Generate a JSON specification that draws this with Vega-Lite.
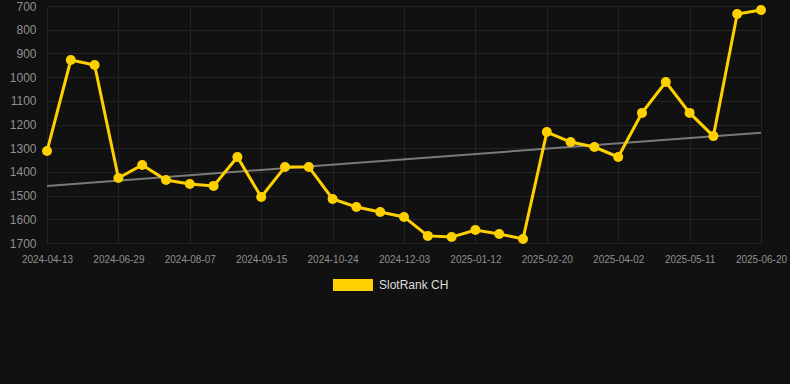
{
  "$schema": "https://vega.github.io/schema/vega-lite/v6.json",
  "width": 753,
  "height": 237,
  "autosize": {"type": "none"},
  "padding": {"left": 37, "top": 6, "right": 0, "bottom": 141},
  "background": "#111111",
  "config": {
    "view": {"stroke": null},
    "font": "Liberation Sans",
    "axis": {"gridColor": "#232323", "gridWidth": 1, "domain": false, "ticks": false, "labelColor": "#8f8f8f", "labelFont": "Liberation Sans", "title": null}
  },
  "datasets": {
    "rank": [
      {"date": "2024-04-13", "rank": 1312, "series": "SlotRank CH"},
      {"date": "2024-05-08", "rank": 928, "series": "SlotRank CH"},
      {"date": "2024-06-03", "rank": 949, "series": "SlotRank CH"},
      {"date": "2024-06-29", "rank": 1426, "series": "SlotRank CH"},
      {"date": "2024-07-12", "rank": 1371, "series": "SlotRank CH"},
      {"date": "2024-07-25", "rank": 1434, "series": "SlotRank CH"},
      {"date": "2024-08-07", "rank": 1451, "series": "SlotRank CH"},
      {"date": "2024-08-20", "rank": 1459, "series": "SlotRank CH"},
      {"date": "2024-09-02", "rank": 1337, "series": "SlotRank CH"},
      {"date": "2024-09-15", "rank": 1506, "series": "SlotRank CH"},
      {"date": "2024-09-28", "rank": 1379, "series": "SlotRank CH"},
      {"date": "2024-10-11", "rank": 1379, "series": "SlotRank CH"},
      {"date": "2024-10-24", "rank": 1514, "series": "SlotRank CH"},
      {"date": "2024-11-06", "rank": 1548, "series": "SlotRank CH"},
      {"date": "2024-11-20", "rank": 1569, "series": "SlotRank CH"},
      {"date": "2024-12-03", "rank": 1590, "series": "SlotRank CH"},
      {"date": "2024-12-16", "rank": 1670, "series": "SlotRank CH"},
      {"date": "2024-12-30", "rank": 1675, "series": "SlotRank CH"},
      {"date": "2025-01-12", "rank": 1645, "series": "SlotRank CH"},
      {"date": "2025-01-25", "rank": 1662, "series": "SlotRank CH"},
      {"date": "2025-02-07", "rank": 1683, "series": "SlotRank CH"},
      {"date": "2025-02-20", "rank": 1232, "series": "SlotRank CH"},
      {"date": "2025-03-06", "rank": 1274, "series": "SlotRank CH"},
      {"date": "2025-03-19", "rank": 1295, "series": "SlotRank CH"},
      {"date": "2025-04-02", "rank": 1337, "series": "SlotRank CH"},
      {"date": "2025-04-15", "rank": 1151, "series": "SlotRank CH"},
      {"date": "2025-04-28", "rank": 1021, "series": "SlotRank CH"},
      {"date": "2025-05-11", "rank": 1151, "series": "SlotRank CH"},
      {"date": "2025-05-24", "rank": 1249, "series": "SlotRank CH"},
      {"date": "2025-06-07", "rank": 734, "series": "SlotRank CH"},
      {"date": "2025-06-20", "rank": 717, "series": "SlotRank CH"}
    ],
    "trend": [
      {"date": "2024-04-13", "rank": 1459},
      {"date": "2025-06-20", "rank": 1235}
    ]
  },
  "encoding": {
    "x": {
      "field": "date",
      "type": "ordinal",
      "scale": {"type": "point", "range": [10, 724], "padding": 0},
      "axis": {
        "values": ["2024-04-13", "2024-06-29", "2024-08-07", "2024-09-15", "2024-10-24", "2024-12-03", "2025-01-12", "2025-02-20", "2025-04-02", "2025-05-11", "2025-06-20"],
        "labelAngle": 0,
        "labelFontSize": 10,
        "labelPadding": 11,
        "grid": true
      }
    },
    "y": {
      "field": "rank",
      "type": "quantitative",
      "scale": {"domain": [700, 1700], "reverse": true, "nice": false, "zero": false},
      "axis": {"values": [700, 800, 900, 1000, 1100, 1200, 1300, 1400, 1500, 1600, 1700], "format": "d", "labelFontSize": 12, "labelPadding": 1, "grid": true}
    }
  },
  "layer": [
    {
      "data": {"name": "trend"},
      "mark": {"type": "line", "color": "#7a7a7a", "strokeWidth": 2},
      "encoding": {}
    },
    {
      "data": {"name": "rank"},
      "mark": {"type": "line", "strokeWidth": 3},
      "encoding": {
        "color": {
          "field": "series",
          "type": "nominal",
          "scale": {"range": ["#FFD000"]},
          "legend": {
            "title": null,
            "orient": "none",
            "legendX": 296,
            "legendY": 259,
            "symbolType": "M-1,-0.3H1V0.3H-1Z",
            "symbolSize": 1600,
            "symbolFillColor": "#FFD000",
            "symbolStrokeColor": "#FFD000",
            "symbolStrokeWidth": 0,
            "labelColor": "#dddddd",
            "labelFontSize": 12,
            "labelOffset": 6
          }
        }
      }
    },
    {
      "data": {"name": "rank"},
      "mark": {"type": "point", "filled": true, "opacity": 1, "size": 100},
      "encoding": {
        "color": {"field": "series", "type": "nominal"}
      }
    }
  ]
}
